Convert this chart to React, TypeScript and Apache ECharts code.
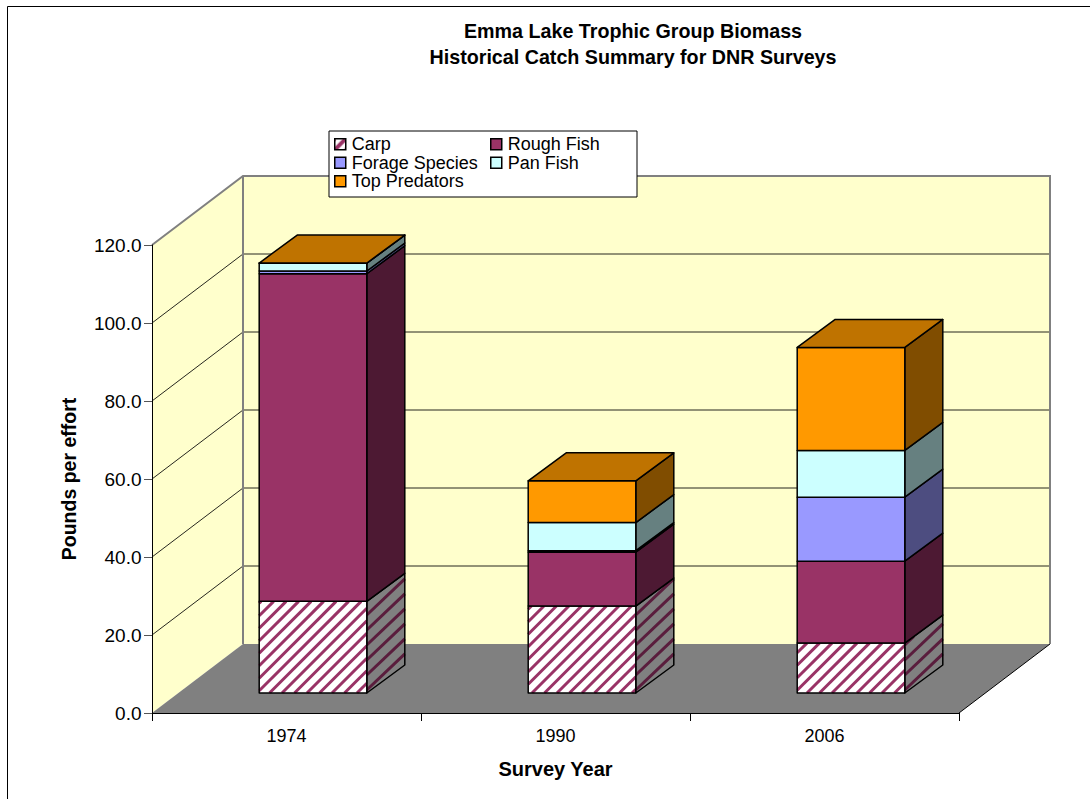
import React, { useEffect, useRef } from "react";
import * as echarts from "echarts";

const years = ["1974", "1990", "2006"];
const carp = [23.5, 22.3, 12.8];
const roughFish = [84.0, 13.8, 21.0];
const forageSpecies = [0.7, 0.4, 16.4];
const panFish = [2.0, 7.2, 12.0];
const topPredators = [0.05, 10.7, 26.4];
const gridValues = [0, 20, 40, 60, 80, 100, 120];

const seriesNames = ["Carp", "Rough Fish", "Forage Species", "Pan Fish", "Top Predators"];
const seriesValues = [carp, roughFish, forageSpecies, panFish, topPredators];
const frontColors = ["#993366", "#993366", "#9999FF", "#CCFFFF", "#FF9900"];
const sideColors = ["#4D1933", "#4D1933", "#4D4D80", "#668080", "#804D00"];
const topColor = "#BF7300";

// Perspective offsets of the pseudo-3D box, in pixels
const WALL_DX = 91;
const WALL_DY = 69;
const BAR_FRONT_DX = 26.5;
const BAR_FRONT_DY = 20;
const BAR_DX = 38;
const BAR_DY = 28;
const BAR_RATIO = 0.4;
const HATCH_PERIOD = 12.5;
const SIDE_PERIOD = 15;
const SIDE_SLOPE = 0.95;

function hatchLine(x1: number, y1: number, x2: number, y2: number, color: string, lw: number) {
  return { type: "line", shape: { x1, y1, x2, y2 }, style: { stroke: color, lineWidth: lw } };
}

function frontHatchLines(x1: number, x2: number, yt: number, yb: number) {
  const out: any[] = [];
  const start = Math.ceil((x1 + yt) / HATCH_PERIOD) * HATCH_PERIOD;
  for (let c = start; c < x2 + yb; c += HATCH_PERIOD) {
    const a = Math.max(x1, c - yb);
    const b = Math.min(x2, c - yt);
    if (b > a) out.push(hatchLine(a, c - a, b, c - b, "#993366", 3));
  }
  return out;
}

function sideHatchLines(x2: number, yt: number, yb: number) {
  const out: any[] = [];
  const k = BAR_DY / BAR_DX;
  const d = SIDE_SLOPE - k;
  const start = Math.ceil(yt / SIDE_PERIOD) * SIDE_PERIOD;
  for (let c = start; c < yb + d * BAR_DX; c += SIDE_PERIOD) {
    const a = Math.max(0, (c - yb) / d);
    const b = Math.min(BAR_DX, (c - yt) / d);
    if (b > a) {
      out.push(hatchLine(x2 + a, c - SIDE_SLOPE * a, x2 + b, c - SIDE_SLOPE * b, "#5A1D3D", 3));
    }
  }
  return out;
}

function stripes(w: number, h: number, bg: string, fg: string, lw: number) {
  const c = document.createElement("canvas");
  c.width = w;
  c.height = h;
  const g = c.getContext("2d")!;
  g.fillStyle = bg;
  g.fillRect(0, 0, w, h);
  g.strokeStyle = fg;
  g.lineWidth = lw;
  for (let k = -1; k <= 1; k++) {
    g.beginPath();
    g.moveTo(k * w, h);
    g.lineTo(k * w + w, 0);
    g.stroke();
  }
  return { image: c, repeat: "repeat" };
}

export default function App() {
  const ref = useRef<HTMLDivElement>(null);
  useEffect(() => {
    document.body.style.margin = "0";
    const chart = echarts.init(ref.current!, undefined, { renderer: "svg" });
    const legendHatch = stripes(11, 11, "#FFFFFF", "#993366", 4);

    const wallItem = (params: any, api: any) => {
      const cs = params.coordSys;
      const left = cs.x;
      const right = cs.x + cs.width;
      const y0 = api.coord([0, 0])[1];
      const yMax = api.coord([0, 120])[1];
      const value = api.value(0);
      const children: any[] = [];
      if (value === 0) {
        children.push(
          {
            type: "polygon",
            shape: { points: [[left, y0], [left + WALL_DX, y0 - WALL_DY], [left + WALL_DX, yMax - WALL_DY], [left, yMax]] },
            style: { fill: "#FFFFCC", stroke: "none" },
          },
          {
            type: "polygon",
            shape: { points: [[left + WALL_DX, y0 - WALL_DY], [right + WALL_DX, y0 - WALL_DY], [right + WALL_DX, yMax - WALL_DY], [left + WALL_DX, yMax - WALL_DY]] },
            style: { fill: "#FFFFCC", stroke: "none" },
          },
          {
            type: "polygon",
            shape: { points: [[left, y0], [right, y0], [right + WALL_DX, y0 - WALL_DY], [left + WALL_DX, y0 - WALL_DY]] },
            style: { fill: "#808080", stroke: "none" },
          },
          {
            type: "line",
            shape: { x1: right, y1: y0, x2: right + WALL_DX, y2: y0 - WALL_DY },
            style: { stroke: "#000000", lineWidth: 1 },
          }
        );
      } else if (value === 120) {
        children.push(
          {
            type: "polyline",
            shape: { points: [[left, yMax], [left + WALL_DX, yMax - WALL_DY], [right + WALL_DX, yMax - WALL_DY], [right + WALL_DX, y0 - WALL_DY]] },
            style: { fill: "none", stroke: "#808080", lineWidth: 2 },
          },
          {
            type: "line",
            shape: { x1: left + WALL_DX, y1: yMax - WALL_DY, x2: left + WALL_DX, y2: y0 - WALL_DY },
            style: { stroke: "#808080", lineWidth: 2 },
          }
        );
      } else {
        const y = api.coord([0, value])[1];
        children.push({
          type: "polyline",
          shape: { points: [[left, y], [left + WALL_DX, y - WALL_DY], [right + WALL_DX, y - WALL_DY]] },
          style: { fill: "none", stroke: "#000000", lineWidth: 1, opacity: 0.85 },
        });
      }
      return { type: "group", children };
    };

    const makeBarItem = (s: number) => (params: any, api: any) => {
      const cat = api.value(0);
      const base = api.value(1);
      const top = api.value(2);
      const cx = api.coord([cat, 0])[0];
      const w = api.size([1, 0])[0] * BAR_RATIO;
      const yb = api.coord([cat, base])[1] - BAR_FRONT_DY;
      const yt = api.coord([cat, top])[1] - BAR_FRONT_DY;
      const x1 = cx + BAR_FRONT_DX - w / 2;
      const x2 = x1 + w;
      const stroke = { stroke: "#000000", lineWidth: 1.5, lineJoin: "round" };
      const sidePts = [[x2, yb], [x2 + BAR_DX, yb - BAR_DY], [x2 + BAR_DX, yt - BAR_DY], [x2, yt]];
      const frontPts = [[x1, yb], [x2, yb], [x2, yt], [x1, yt]];
      const hatched = s === 0;
      const children: any[] = [
        { type: "polygon", shape: { points: sidePts }, style: { fill: hatched ? "#808080" : sideColors[s], stroke: "none" } },
        ...(hatched ? sideHatchLines(x2, yt, yb) : []),
        { type: "polygon", shape: { points: sidePts }, style: { fill: "none", ...stroke } },
        { type: "polygon", shape: { points: frontPts }, style: { fill: hatched ? "#FFFFFF" : frontColors[s], stroke: "none" } },
        ...(hatched ? frontHatchLines(x1, x2, yt, yb) : []),
        { type: "polygon", shape: { points: frontPts }, style: { fill: "none", ...stroke } },
      ];
      if (s === seriesNames.length - 1) {
        children.push({
          type: "polygon",
          shape: { points: [[x1, yt], [x2, yt], [x2 + BAR_DX, yt - BAR_DY], [x1 + BAR_DX, yt - BAR_DY]] },
          style: { fill: topColor, ...stroke },
        });
      }
      return { type: "group", children };
    };

    const barSeries = seriesNames.map((name, s) => ({
      type: "custom",
      name,
      coordinateSystem: "cartesian2d",
      renderItem: makeBarItem(s),
      itemStyle: { color: frontColors[s] },
      encode: { x: 0, y: 2 },
      z: 3 + s,
      silent: true,
      data: years.map((_, i) => {
        let base = 0;
        for (let k = 0; k < s; k++) base += seriesValues[k][i];
        return [i, base, base + seriesValues[s][i]];
      }),
    }));

    const legendCommon = {
      orient: "vertical",
      icon: "rect",
      itemWidth: 11,
      itemHeight: 11,
      itemGap: 0,
      padding: 0,
      selectedMode: false,
      z: 20,
      textStyle: { fontFamily: "Liberation Sans", fontSize: 18, lineHeight: 18.5, color: "#000", padding: [0, 0, 0, 1] },
    };
    const legendEntry = (name: string, i: number) => ({
      name,
      itemStyle: {
        color: i === 0 ? legendHatch : frontColors[i],
        borderColor: "#000",
        borderWidth: 1.5,
      },
    });

    chart.setOption({
      animation: false,
      backgroundColor: "#FFFFFF",
      title: {
        text: "Emma Lake Trophic Group Biomass\nHistorical Catch Summary for DNR Surveys",
        left: 628,
        top: 13,
        textAlign: "center",
        textStyle: { fontFamily: "Liberation Sans", fontSize: 19.7, fontWeight: "bold", color: "#000", lineHeight: 26 },
      },
      graphic: [
        {
          type: "rect",
          z: -1,
          shape: { x: 7.5, y: 6.5, width: 1100, height: 820 },
          style: { fill: "none", stroke: "#000", lineWidth: 1 },
        },
        {
          type: "rect",
          z: 15,
          shape: { x: 329, y: 131, width: 308, height: 66 },
          style: { fill: "#FFFFFF", stroke: "#000", lineWidth: 1 },
        },
      ],
      legend: [
        { ...legendCommon, left: 334, top: 135, data: [0, 2, 4].map((i) => legendEntry(seriesNames[i], i)) },
        { ...legendCommon, left: 490, top: 135, data: [1, 3].map((i) => legendEntry(seriesNames[i], i)) },
      ],
      grid: { left: 152, right: 131, top: 245, bottom: 86 },
      xAxis: {
        type: "category",
        data: years,
        z: 10,
        name: "Survey Year",
        nameLocation: "middle",
        nameGap: 46,
        nameTextStyle: { fontFamily: "Liberation Sans", fontSize: 20, fontWeight: "bold", color: "#000" },
        axisLine: { lineStyle: { color: "#000", width: 1 } },
        axisTick: { show: true, length: 8, lineStyle: { color: "#000" } },
        axisLabel: { fontFamily: "Liberation Sans", fontSize: 18, color: "#000", margin: 14 },
        splitLine: { show: false },
      },
      yAxis: {
        type: "value",
        min: 0,
        max: 120,
        interval: 20,
        z: 10,
        name: "Pounds per effort",
        nameLocation: "middle",
        nameGap: 73,
        nameTextStyle: { fontFamily: "Liberation Sans", fontSize: 19.5, fontWeight: "bold", color: "#000" },
        axisLine: { show: true, lineStyle: { color: "#000", width: 1 } },
        axisTick: { show: true, length: 8, lineStyle: { color: "#555" } },
        axisLabel: { fontFamily: "Liberation Sans", fontSize: 19, color: "#000", margin: 10.5, formatter: (v: number) => v.toFixed(1) },
        splitLine: { show: false },
      },
      series: [
        {
          type: "custom",
          name: "Walls",
          coordinateSystem: "cartesian2d",
          renderItem: wallItem,
          encode: { y: 0 },
          z: 1,
          silent: true,
          data: gridValues.map((v) => [v]),
        },
        ...barSeries,
      ],
    });
    return () => chart.dispose();
  }, []);
  return <div ref={ref} style={{ width: 1090, height: 799 }} />;
}
